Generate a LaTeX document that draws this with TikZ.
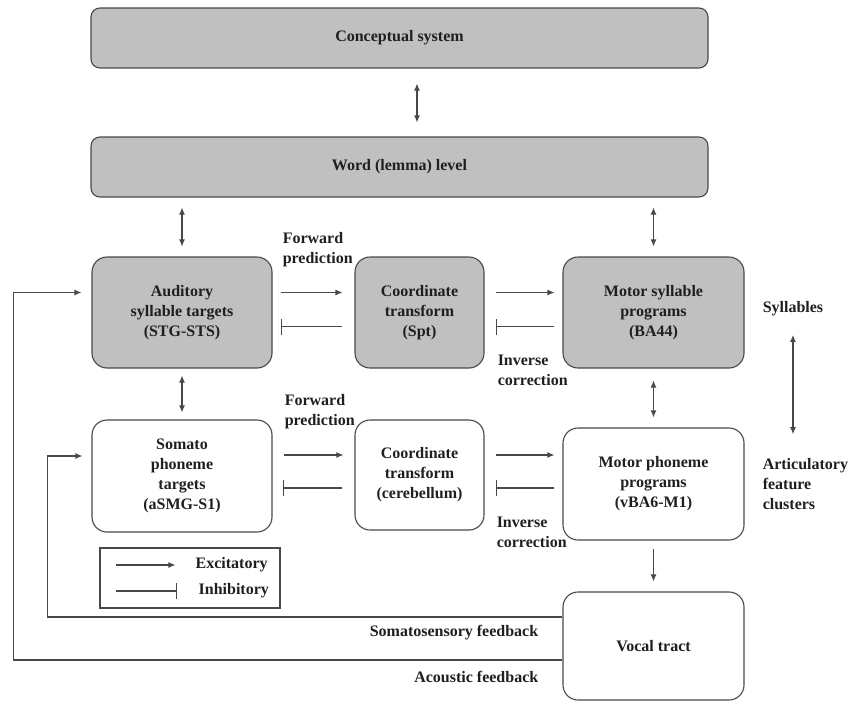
\documentclass[tikz,border=0pt]{standalone}
\usepackage{fontspec}
\setmainfont{Liberation Serif}
\usepackage{tikz}
\usetikzlibrary{arrows.meta}
\definecolor{boxgray}{RGB}{192,192,192}
\definecolor{linegray}{RGB}{72,72,72}

\begin{document}
\begin{tikzpicture}[
        x=1pt, y=-1pt,
        font=\fontsize{16}{20}\selectfont\bfseries,
        text=black!88,
        levelbox/.style={draw=linegray, line width=1.1pt, rounded corners=15pt, align=center, inner sep=0pt},
        graybox/.style={levelbox, fill=boxgray},
        sidetext/.style={align=left, inner sep=0pt, anchor=west},
        exc/.style={-{Latex[length=7pt,width=6pt]}, draw=linegray, line width=1.1pt},
        bidir/.style={{Latex[length=7pt,width=6pt]}-{Latex[length=7pt,width=6pt]}, draw=linegray, line width=1.1pt},
        inh/.style={-{Bar[width=16pt]}, draw=linegray, line width=1.1pt},
        ]
    \useasboundingbox (0,0) rectangle (849,702);
    \node [graybox, rounded corners=9pt, minimum width=617, minimum height=60] (concept) at (399.5,38) {Conceptual system};
    \node [graybox, rounded corners=9pt, minimum width=617, minimum height=60] (word) at (399.5,167) {Word (lemma) level};
    \node [graybox, minimum width=180, minimum height=111] (aud) at (182,312.5) {Auditory\\syllable targets\\(STG-STS)};
    \node [graybox, minimum width=129, minimum height=111] (spt) at (419.5,312.5) {Coordinate\\transform\\(Spt)};
    \node [graybox, minimum width=181, minimum height=111] (msyl) at (653.5,312.5) {Motor syllable\\programs\\(BA44)};
    \node [levelbox, minimum width=180, minimum height=112] (soma) at (182,476) {Somato\\phoneme\\targets\\(aSMG-S1)};
    \node [levelbox, minimum width=129, minimum height=110] (cereb) at (419.5,475) {Coordinate\\transform\\(cerebellum)};
    \node [levelbox, minimum width=181, minimum height=112] (mphon) at (653.5,484) {Motor phoneme\\programs\\(vBA6-M1)};
    \node [levelbox, minimum width=181, minimum height=108] (vocal) at (653.5,646) {Vocal tract};

    \draw [bidir, shorten <=15pt, shorten >=14pt] ([xshift=17.5pt]concept.south) -- ([xshift=17.5pt]word.north);
    \draw [bidir, shorten <=10pt, shorten >=10pt] (word.south -| aud.north) -- (aud.north);
    \draw [bidir, shorten <=10pt, shorten >=10pt] (word.south -| msyl.north) -- (msyl.north);
    \draw [bidir, shorten <=7pt, shorten >=7pt] (aud.south) -- (soma.north);
    \draw [bidir, shorten <=12pt, shorten >=10pt] (msyl.south) -- (mphon.north);
    \draw [exc, shorten <=8pt, shorten >=10pt] (mphon.south) -- (vocal.north);

    \draw [exc, shorten <=8pt, shorten >=12pt] ([yshift=20pt]aud.east) -- ([yshift=20pt]spt.west);
    \draw [inh, shorten <=12pt, shorten >=8pt] ([yshift=-14pt]spt.west) -- ([yshift=-14pt]aud.east);
    \draw [exc, shorten <=11pt, shorten >=8pt] ([yshift=20pt]spt.east) -- ([yshift=20pt]msyl.west);
    \draw [inh, shorten <=8pt, shorten >=11pt] ([yshift=-14pt]msyl.west) -- ([yshift=-14pt]spt.east);

    \draw [exc, shorten <=11pt, shorten >=11pt] ([yshift=20pt]cereb.west -| soma.east) -- ([yshift=20pt]cereb.west);
    \draw [inh, shorten <=12pt, shorten >=10pt] ([yshift=-13pt]cereb.west) -- ([yshift=-13pt]cereb.west -| soma.east);
    \draw [exc, shorten <=11pt, shorten >=8pt] ([yshift=20pt]cereb.east) -- ([yshift=20pt]cereb.east -| mphon.west);
    \draw [inh, shorten <=8pt, shorten >=11pt] ([yshift=-13pt]cereb.east -| mphon.west) -- ([yshift=-13pt]cereb.east);

    \node [sidetext] (fwdA) at ([xshift=10pt,yshift=7pt]aud.north east) {Forward\\prediction};
    \node [sidetext] (fwdB) at ([xshift=12pt,yshift=8pt]soma.north east) {Forward\\prediction};
    \node [sidetext] (invA) at ([xshift=13pt,yshift=-2pt]spt.south east) {Inverse\\correction};
    \node [sidetext] (invB) at ([xshift=12pt,yshift=-2pt]cereb.south east) {Inverse\\correction};
    \node [sidetext] (syl) at ([xshift=18pt,yshift=4pt]msyl.east) {Syllables};
    \node [sidetext] (artic) at ([xshift=18pt]mphon.east) {Articulatory\\feature\\clusters};
    \draw [bidir, shorten <=19pt, shorten >=24pt] (syl.south) -- (syl.south |- artic.north);

    \node [draw=linegray, line width=1.1pt, minimum width=180, minimum height=60, inner sep=0pt] (legend) at (190,578) {};
    \node [sidetext] (exclbl) at ([xshift=96pt,yshift=13pt]legend.west) {Excitatory};
    \node [sidetext] (inhlbl) at ([xshift=99pt,yshift=-13pt]legend.west) {Inhibitory};
    \draw [exc] ([xshift=-79pt]exclbl.west) -- ([xshift=-20pt]exclbl.west);
    \draw [inh] ([xshift=-82pt]inhlbl.west) -- ([xshift=-21pt]inhlbl.west);

    \draw [exc, shorten >=9pt] ([yshift=29pt]vocal.west) -| ([xshift=-44pt,yshift=20pt]soma.west) -- ([yshift=20pt]soma.west);
    \draw [exc, shorten >=10pt] ([yshift=-14pt]vocal.west) -| ([xshift=-78pt,yshift=20pt]aud.west) -- ([yshift=20pt]aud.west);
    \node [sidetext, anchor=east] (sfb) at ([xshift=-24pt,yshift=13pt]vocal.west) {Somatosensory feedback};
    \node [sidetext, anchor=east] (afb) at ([xshift=-24pt,yshift=-31pt]vocal.west) {Acoustic feedback};
\end{tikzpicture}
\end{document}
